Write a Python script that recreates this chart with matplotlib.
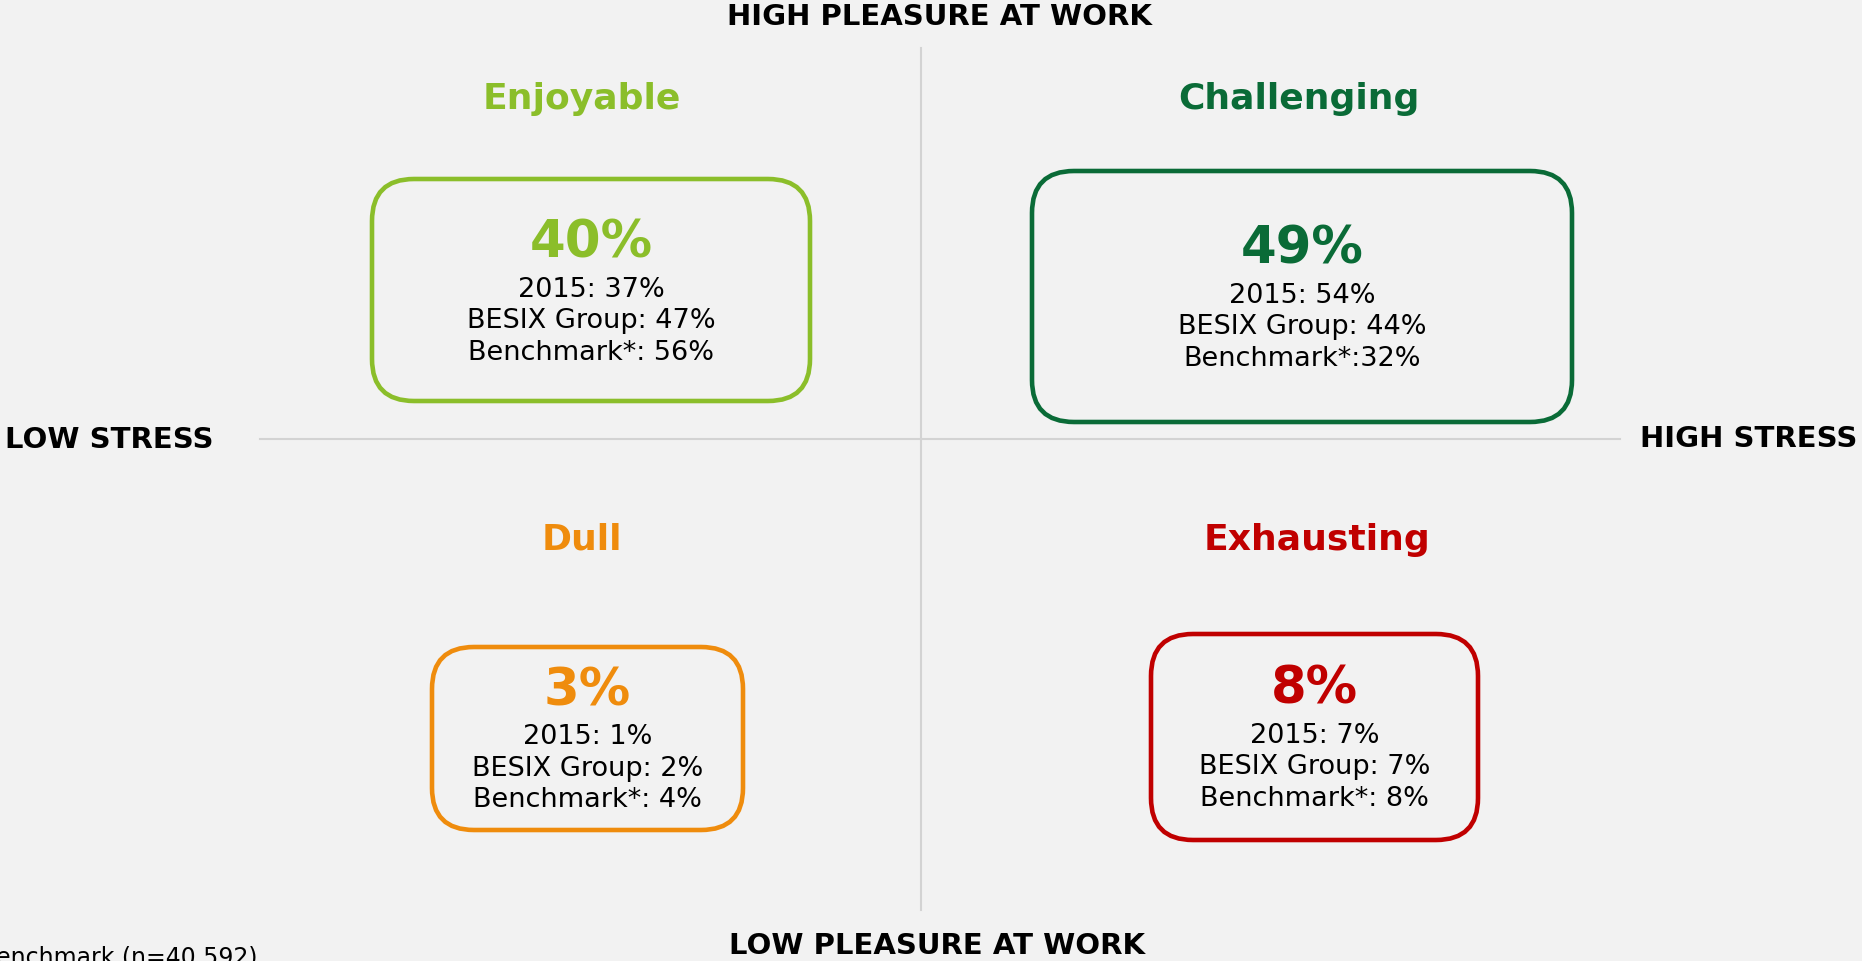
import matplotlib.pyplot as plt
from matplotlib.patches import FancyBboxPatch

plt.rcParams['font.family'] = ['DejaVu Sans']

# data
categories = ['Enjoyable', 'Challenging', 'Dull', 'Exhausting']
share_2017 = [40, 49, 3, 8]
share_2015 = [37, 54, 1, 7]
share_group = [47, 44, 2, 7]
share_bench = [56, 32, 4, 8]
colors = ['#8BBE2A', '#0A6B37', '#EF8C0D', '#C00000']

# layout (pixel coordinates of the figure)
title_xy = [(582, 99), (1299, 99), (582, 540), (1317, 540)]
boxes = [(372, 179, 810, 401), (1032, 171, 1572, 422),
         (432, 647, 743, 830), (1151, 634, 1478, 840)]
value_y = [244, 250, 691, 690]
W, H = 1862, 961

fig = plt.figure(figsize=(W / 100, H / 100), dpi=100)
fig.patch.set_facecolor('#F2F2F2')
ax = fig.add_axes([0, 0, 1, 1])
ax.set_facecolor('#F2F2F2')
ax.set_xlim(0, W)
ax.set_ylim(H, 0)
ax.axis('off')

# quadrant axes
ax.plot([921, 921], [48, 910], color='#D3D3D3', lw=1.5)
ax.plot([260, 1620], [439, 439], color='#D3D3D3', lw=1.5)

lab = dict(fontsize=21, fontweight='bold', color='black', va='center')
ax.text(939, 17, 'HIGH PLEASURE AT WORK', ha='center', **lab)
ax.text(937, 946, 'LOW PLEASURE AT WORK', ha='center', **lab)
ax.text(5, 440, 'LOW STRESS', ha='left', **lab)
ax.text(1857, 439, 'HIGH STRESS', ha='right', **lab)

for i, cat in enumerate(categories):
    c = colors[i]
    tx, ty = title_xy[i]
    ax.text(tx, ty, cat, ha='center', va='center', fontsize=26,
            fontweight='bold', color=c)
    x0, y0, x1, y1 = boxes[i]
    ax.add_patch(FancyBboxPatch((x0, y0), x1 - x0, y1 - y0,
                                boxstyle='round,pad=0,rounding_size=42',
                                fc='none', ec=c, lw=3.3))
    cx = (x0 + x1) / 2
    vy = value_y[i]
    ax.text(cx, vy, f'{share_2017[i]}%', ha='center', va='center',
            fontsize=37, fontweight='bold', color=c)
    sep = ' ' if i != 1 else ''
    lines = [f'2015: {share_2015[i]}%',
             f'BESIX Group: {share_group[i]}%',
             f'Benchmark*:{sep}{share_bench[i]}%']
    for k, s in enumerate(lines):
        ax.text(cx, vy + 46 + k * 31.5, s, ha='center', va='center',
                fontsize=19.5, color='black')

# footnote runs off the left/bottom edge, as in the original
ax.text(258, 957, '*Benchmark (n=40,592)', ha='right', va='center',
        fontsize=17, color='black')

fig.savefig('out.png', dpi=100, facecolor=fig.get_facecolor())
